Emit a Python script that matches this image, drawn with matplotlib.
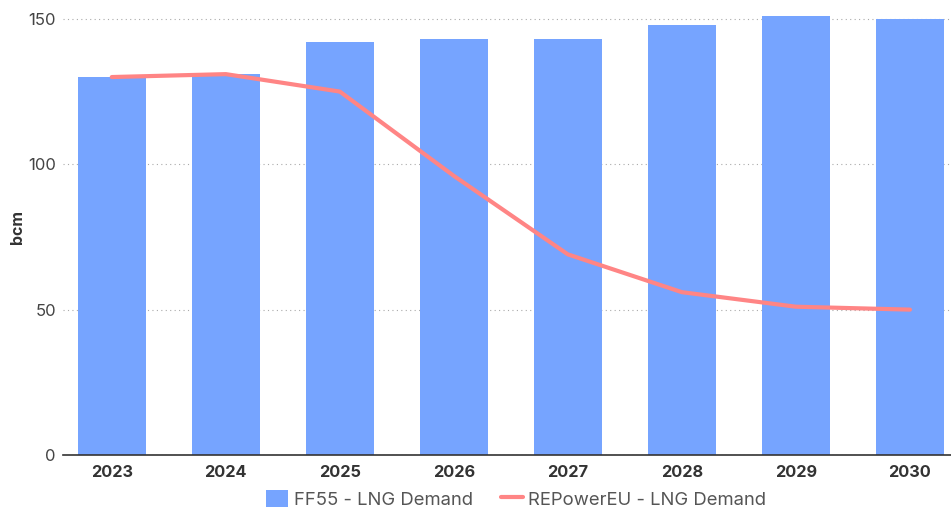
import matplotlib
matplotlib.use("Agg")
import numpy as np
from matplotlib import pyplot as plt

years = ["2023", "2024", "2025", "2026", "2027", "2028", "2029", "2030"]
ff55_demand = [130, 131, 142, 143, 143, 148, 151, 150]
repower_demand = [130, 131, 125, 96, 69, 56, 51, 50]

plt.rcParams["font.family"] = ["Inter", "DejaVu Sans"]

fig = plt.figure(figsize=(9.51, 5.07), dpi=100)
ax = fig.add_axes([0.066, 0.1026, 0.934, 0.8974])

x = np.arange(len(years))
bars = ax.bar(x, ff55_demand, width=0.6, color="#76a4ff", label="FF55 - LNG Demand", zorder=2)
line, = ax.plot(x, repower_demand, color="#ff8585", linewidth=3, solid_capstyle="round",
                label="REPowerEU - LNG Demand", zorder=3)

ax.set_xlim(-0.43, 7.36)
ax.set_ylim(0, 156.5)
ax.set_yticks([0, 50, 100, 150])
ax.set_xticks(x)
ax.set_xticklabels(years, fontweight="bold", fontsize=11.8, color="#333333")
ax.tick_params(axis="y", labelsize=12, labelcolor="#444444", length=0, pad=5)
ax.tick_params(axis="x", length=0, pad=7)
ax.yaxis.grid(True, linestyle=(0, (1, 3)), color="#aaaaaa", linewidth=0.8, zorder=0)
for s in ["top", "right", "left"]:
    ax.spines[s].set_visible(False)
ax.spines["bottom"].set_color("#333333")
ax.spines["bottom"].set_linewidth(1.2)
ax.spines["bottom"].set_zorder(4)

ax.set_ylabel("bcm", fontweight="bold", fontsize=11.5, color="#333333")
ax.yaxis.set_label_coords(-0.042, 0.5)

fig.legend([bars, line], ["FF55 - LNG Demand", "REPowerEU - LNG Demand"],
           loc="lower center", bbox_to_anchor=(0.543, -0.036), ncol=2, frameon=False,
           fontsize=13.3, labelcolor="#555555", handlelength=1.2, handleheight=1.0,
           columnspacing=1.5, handletextpad=0.3)

fig.savefig("out.png", dpi=100)
